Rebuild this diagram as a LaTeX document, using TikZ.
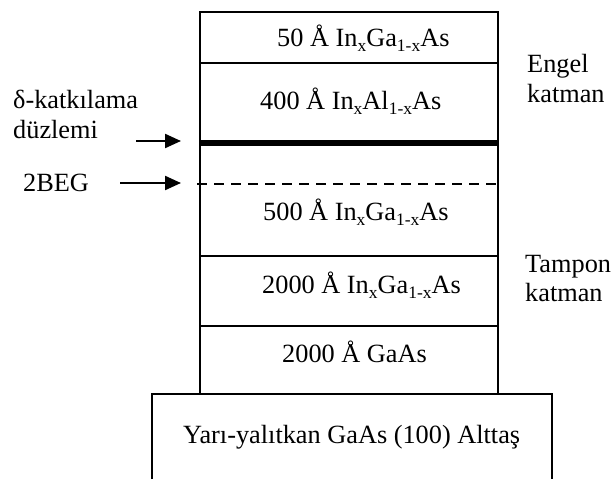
\documentclass[tikz,border=0pt]{standalone}
\usepackage{fontspec}
\setmainfont{Liberation Serif}
\usetikzlibrary{arrows.meta}
% subscript set in a smaller size, lowered below the baseline
\newcommand{\lowidx}[1]{\raisebox{-0.2em}{\fontsize{17.5}{17.5}\selectfont #1}}
\begin{document}
\begin{tikzpicture}[x=1pt,y=-1pt,
  layerline/.style={line width=2.5pt},
  label/.style={inner sep=0pt,anchor=base west,font=\fontsize{26.3}{30}\selectfont},
  pointer/.style={line width=2.2pt,-{Triangle[length=16pt,width=14pt]}}]
\useasboundingbox (0,0) rectangle (615,479);

% substrate, open at the bottom
\draw[layerline] (152,479) -- (152,394) -- (552,394) -- (552,479);

% epitaxial stack
\draw[layerline] (200,12) rectangle (498,394);
\draw[layerline] (200,63) -- (498,63);
\draw[layerline] (200,256) -- (498,256);
\draw[layerline] (200,326) -- (498,326);
% delta-doping plane and 2DEG
\draw[line width=6pt] (199,143) -- (499,143);
\draw[line width=2pt,dash pattern=on 10pt off 7pt] (197,184) -- (497,184);

% layer names
\node[label] (l1) at (277,46) {50 Å In\lowidx{x}Ga\lowidx{1-x}As};
\node[label] (l2) at (260,109) {400 Å In\lowidx{x}Al\lowidx{1-x}As};
\node[label] (l3) at (263,220) {500 Å In\lowidx{x}Ga\lowidx{1-x}As};
\node[label] (l4) at (262,293) {2000 Å In\lowidx{x}Ga\lowidx{1-x}As};
\node[label] (l5) at (282,362) {2000 Å GaAs};
\node[label] (l6) at (183,443) {Yarı-yalıtkan GaAs (100) Alttaş};

% side annotations
\node[label] (d1) at (13,108) {δ-katkılama};
\node[label] (d2) at (13,138) {düzlemi};
\node[label] (g) at (23,191) {2BEG};
\node[label] (e1) at (527,72) {Engel};
\node[label] (e2) at (527,102) {katman};
\node[label] (t1) at (525,272) {Tampon};
\node[label] (t2) at (525,301) {katman};

% arrows
\coordinate (dA) at (136,141);
\coordinate (dB) at (181,141);
\coordinate (gA) at (120,183);
\coordinate (gB) at (181,183);
\draw[pointer] (dA) -- (dB);
\draw[pointer] (gA) -- (gB);
\end{tikzpicture}
\end{document}
